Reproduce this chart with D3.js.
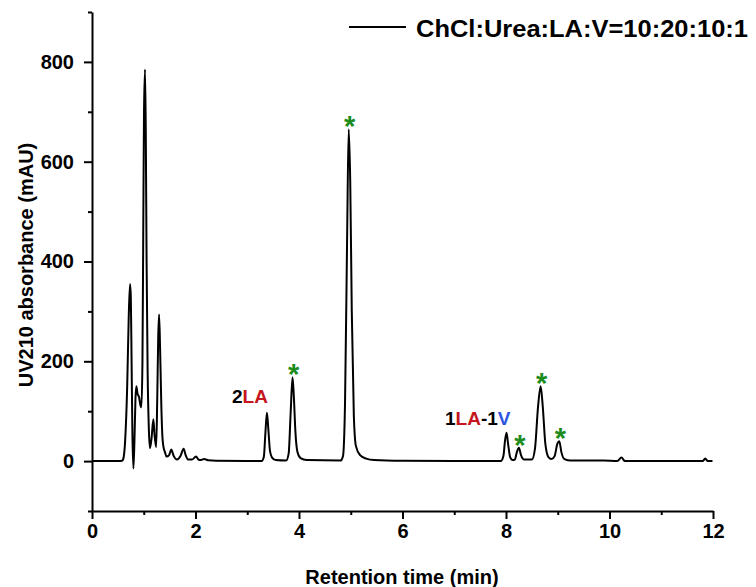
<!DOCTYPE html>
<html>
<head>
<meta charset="utf-8">
<script src="https://cdn.jsdelivr.net/npm/d3@7"></script>
<style>
  body { margin: 0; background: #fff; }
  text { font-family: "Liberation Sans", Arial, sans-serif; font-weight: bold; }
</style>
</head>
<body>
<div id="chart"></div>
<script>
// Kromatogram verisi
const retentionTime = [
  0, 0.5, 0.58, 0.6, 0.64, 0.68, 0.71, 0.735, 0.75, 0.765, 0.78, 0.8, 0.82, 0.84, 0.857, 0.88,
  0.91, 0.935, 0.955, 0.975, 0.99, 1.005, 1.025, 1.04, 1.055, 1.075, 1.1, 1.12, 1.15, 1.186,
  1.21, 1.24, 1.26, 1.28, 1.296, 1.315, 1.34, 1.36, 1.38, 1.41, 1.44, 1.49, 1.53, 1.58, 1.64,
  1.71, 1.77, 1.81, 1.86, 1.93, 2.01, 2.06, 2.09, 2.17, 2.25, 2.4, 3.0, 3.28, 3.32, 3.35, 3.38,
  3.41, 3.44, 3.48, 3.55, 3.75, 3.8, 3.84, 3.875, 3.9, 3.93, 3.97, 4.03, 4.15, 4.8, 4.85, 4.89,
  4.93, 4.96, 4.99, 5.02, 5.06, 5.1, 5.18, 5.3, 5.45, 6.0, 7.0, 7.9, 7.95, 7.98, 8.01, 8.04,
  8.08, 8.13, 8.17, 8.21, 8.25, 8.29, 8.35, 8.5, 8.56, 8.62, 8.67, 8.71, 8.76, 8.82, 8.88,
  8.94, 8.99, 9.03, 9.07, 9.13, 9.25, 9.88, 10.15, 10.23, 10.3, 11.0, 11.8, 11.85, 11.9, 11.99
];
const absorbance = [
  0, 0, 0.5, 3, 40, 150, 290, 355, 330, 200, 60, -15, 40, 125, 150, 135,
  128, 112, 108, 200, 450, 700, 785, 650, 400, 180, 60, 26, 45, 84,
  50, 28, 120, 250, 294, 230, 110, 50, 29, 18, 9, 12, 23, 10, 3,
  10, 25, 12, 3, 3, 9, 3, 2, 4, 1.5, 0.5, 0, 0, 8, 55, 97,
  60, 20, 7, 2, 1, 15, 100, 168, 130, 60, 18, 6, 2, 1, 10, 120,
  450, 665, 560, 300, 90, 30, 12, 5, 2, 0.5, 0, 0, 10, 40, 57, 35,
  8, 2, 3, 18, 27, 12, 3, 3, 25, 110, 150, 110, 35, 8, 4,
  10, 34, 40, 18, 4, 1, 1, 0, 7, 0, 0, 0, 5, 0, 0
];

// Yıldızla işaretlenen tepeler
const starTimes = [3.875, 4.96, 8.25, 8.67, 9.03];
const starValues = [168, 665, 27, 150, 40];

// Eksen değerleri
const xTicks = [0, 2, 4, 6, 8, 10, 12];
const xMinorTicks = [1, 3, 5, 7, 9, 11];
const yTicks = [0, 200, 400, 600, 800];
const yMinorTicks = [-100, 100, 300, 500, 700, 900];

const seriesName = "ChCl:Urea:LA:V=10:20:10:1";
const xTitle = "Retention time (min)";
const yTitle = "UV210 absorbance (mAU)";

const red = "#c4161c", blue = "#2f55e0", green = "#1c8c1c";

const width = 756, height = 587;
const svg = d3.select('#chart').append('svg')
    .attr('width', width)
    .attr('height', height);

const x = d3.scaleLinear().domain([0, 12]).range([92, 713]);
const y = d3.scaleLinear().domain([-100, 900]).range([511, 12]);

// Y ekseni
svg.append("g")
    .attr("transform", "translate(92,0)")
    .call(d3.axisLeft(y).tickValues(yTicks).tickSize(8).tickPadding(10).tickSizeOuter(0))
    .call(g => g.selectAll("text").style("font-size", "20px"))
    .call(g => g.selectAll("line, path").attr("stroke-width", 2));
svg.append("g")
    .attr("transform", "translate(92,0)")
    .call(d3.axisLeft(y).tickValues(yMinorTicks).tickSize(4).tickFormat(""))
    .call(g => g.select(".domain").remove())
    .call(g => g.selectAll("line").attr("stroke-width", 2));

// X ekseni
svg.append("g")
    .attr("transform", "translate(0,511)")
    .call(d3.axisBottom(x).tickValues(xTicks).tickSize(8).tickPadding(5).tickSizeOuter(0))
    .call(g => g.selectAll("text").style("font-size", "20px"))
    .call(g => g.selectAll("line, path").attr("stroke-width", 2));
svg.append("g")
    .attr("transform", "translate(0,511)")
    .call(d3.axisBottom(x).tickValues(xMinorTicks).tickSize(4).tickFormat(""))
    .call(g => g.select(".domain").remove())
    .call(g => g.selectAll("line").attr("stroke-width", 2));

// Eksen başlıkları
svg.append("text")
    .attr("x", 402).attr("y", 584)
    .attr("text-anchor", "middle")
    .style("font-size", "20px")
    .text(xTitle);
svg.append("text")
    .attr("transform", "translate(33,265) rotate(-90)")
    .attr("text-anchor", "middle")
    .style("font-size", "20px")
    .text(yTitle);

// Kromatogram çizgisi
const points = retentionTime.map((t, i) => [t, absorbance[i]]);
svg.append("path")
    .datum(points)
    .attr("fill", "none")
    .attr("stroke", "black")
    .attr("stroke-width", 2)
    .attr("stroke-linejoin", "round")
    .attr("d", d3.line().x(d => x(d[0])).y(d => y(d[1])).curve(d3.curveMonotoneX));

// Yıldızlar
svg.selectAll(".star")
    .data(starTimes)
    .enter().append("text")
    .attr("class", "star")
    .attr("x", d => x(d) + 1)
    .attr("y", (d, i) => y(starValues[i]) + 7)
    .attr("text-anchor", "middle")
    .attr("fill", green)
    .style("font-size", "29px")
    .text("*");

// Tepe etiketleri
const lab1 = svg.append("text")
    .attr("x", x(3.38) + 1).attr("y", y(97) - 10)
    .attr("text-anchor", "end")
    .style("font-size", "19px");
lab1.append("tspan").attr("fill", "black").text("2");
lab1.append("tspan").attr("fill", red).text("LA");

const lab2 = svg.append("text")
    .attr("x", x(8.01) + 4).attr("y", y(57) - 8)
    .attr("text-anchor", "end")
    .style("font-size", "19px");
lab2.append("tspan").attr("fill", "black").text("1");
lab2.append("tspan").attr("fill", red).text("LA");
lab2.append("tspan").attr("fill", "black").text("-1");
lab2.append("tspan").attr("fill", blue).text("V");

// Gösterge
svg.append("line")
    .attr("x1", 349).attr("x2", 406)
    .attr("y1", 27).attr("y2", 27)
    .attr("stroke", "black")
    .attr("stroke-width", 2);
svg.append("text")
    .attr("x", 416).attr("y", 37)
    .attr("textLength", 332)
    .attr("lengthAdjust", "spacingAndGlyphs")
    .style("font-size", "24px")
    .text(seriesName);
</script>
</body>
</html>
